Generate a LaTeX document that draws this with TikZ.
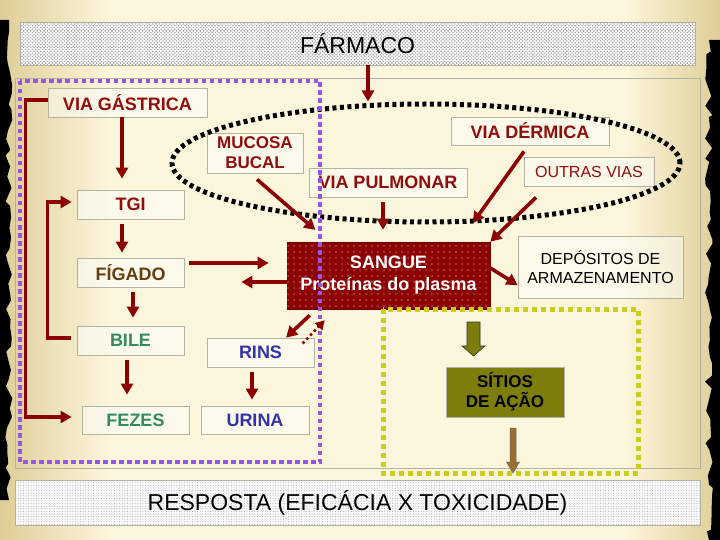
\documentclass[tikz,border=0pt]{standalone}
\usepackage{fontspec}
\setmainfont{Liberation Sans}
\usetikzlibrary{arrows.meta,patterns,patterns.meta,decorations.pathmorphing,shapes.geometric}
\definecolor{parch}{RGB}{252,246,220}
\definecolor{parchdark}{RGB}{222,206,150}
\definecolor{dred}{RGB}{145,12,12}
\definecolor{arrred}{RGB}{140,0,0}
\definecolor{figc}{RGB}{100,62,15}
\definecolor{grn}{RGB}{50,140,95}
\definecolor{blu}{RGB}{50,50,170}
\definecolor{purp}{RGB}{150,85,230}
\definecolor{yel}{RGB}{205,205,30}
\definecolor{olv}{RGB}{125,125,12}
\definecolor{brn}{RGB}{155,110,45}
\definecolor{boxgray}{RGB}{180,178,165}
\definecolor{sang}{RGB}{140,0,0}
\begin{document}
\begin{tikzpicture}[x=1pt,y=-1pt,
  lbl/.style={draw=boxgray,line width=0.8pt,fill=white,fill opacity=0.45,text opacity=1,
    font=\fontsize{18}{21}\selectfont\bfseries,align=center,inner sep=0pt},
  arr/.style={draw=arrred,line width=3.6pt,-{Triangle[length=11pt,width=12pt]}},
  dotarr/.style={draw=arrred,line width=3.6pt,line cap=round,dash pattern=on 0pt off 5.5pt,-{Triangle[length=9pt,width=10pt]}},
  purpline/.style={draw=purp,line width=4.5pt,dash pattern=on 4.5pt off 3.5pt},
  yelline/.style={draw=yel,line width=5pt,dash pattern=on 5pt off 4pt},
  blkline/.style={draw=black,line width=5pt,dash pattern=on 4pt off 3.5pt}]
\useasboundingbox (0,0) rectangle (720,540);
% parchment background
\fill[parch] (0,0) rectangle (720,540);
\shade[left color=parchdark,right color=parch] (0,0) rectangle (110,540);
\shade[left color=parch,right color=parchdark] (625,0) rectangle (720,540);
\pgfmathsetseed{11}
\fill[black] (0,20) -- (9,20) decorate[decoration={random steps,segment length=9pt,amplitude=4pt}]{-- (9,500)} -- (0,500) -- cycle;
\fill[black] (720,40) -- (709,40) decorate[decoration={random steps,segment length=9pt,amplitude=4pt}]{-- (709,540)} -- (720,540) -- cycle;
% inner frame
\draw[boxgray,line width=0.8pt] (15,78) rectangle (700,468);
% banners
\node[draw=boxgray,line width=0.6pt,fill=white,minimum width=675,minimum height=43,inner sep=0pt] (farm) at (357.5,43.5) {};
\fill[pattern={Dots[distance=2.4pt,angle=45,radius=0.9pt]},pattern color=gray!75] (20.5,22.5) rectangle (694.5,64.5);
\node[font=\fontsize{23}{25}\selectfont] at (farm) {FÁRMACO};
\node[draw=boxgray,line width=0.6pt,fill=white!96!gray,minimum width=685,minimum height=45,inner sep=0pt] (resp) at (357.5,502.5) {};
\fill[pattern={Dots[distance=2.6pt,radius=0.5pt]},pattern color=gray!70] (15.5,480.5) rectangle (699.5,524.5);
\node[font=\fontsize{23}{25}\selectfont] at (resp) {RESPOSTA (EFICÁCIA X TOXICIDADE)};
% boxes
\node[lbl,text=dred,minimum width=159,minimum height=29] (vg) at (127.5,102.5) {VIA GÁSTRICA};
\node[lbl,text=dred,minimum width=96,minimum height=40,font=\fontsize{17}{20}\selectfont\bfseries] (muc) at (255,153) {MUCOSA\\BUCAL};
\node[lbl,text=dred,minimum width=158,minimum height=29] (pul) at (388,182.5) {VIA PULMONAR};
\node[lbl,text=dred,minimum width=158,minimum height=28] (der) at (530,131) {VIA DÉRMICA};
\node[lbl,text=dred,minimum width=130,minimum height=29,font=\fontsize{16}{18}\selectfont] (out) at (589,171.5) {OUTRAS VIAS};
\node[lbl,text=dred,minimum width=107,minimum height=29] (tgi) at (130.5,204.5) {TGI};
\node[lbl,text=figc,minimum width=107,minimum height=29] (fig) at (130.5,272.5) {FÍGADO};
\node[lbl,text=black,minimum width=165,minimum height=62,font=\fontsize{16}{18.5}\selectfont] (dep) at (600.5,267) {DEPÓSITOS DE\\ARMAZENAMENTO};
\node[lbl,text=grn,minimum width=107,minimum height=29] (bile) at (130.5,340.5) {BILE};
\node[lbl,text=blu,minimum width=107,minimum height=29] (rins) at (260.5,352.5) {RINS};
\node[lbl,text=grn,minimum width=107,minimum height=28] (fez) at (135.5,420) {FEZES};
\node[lbl,text=blu,minimum width=108,minimum height=28] (uri) at (255,420) {URINA};
% sangue
\node[fill=sang,draw=sang!80!black,line width=0.6pt,minimum width=203,minimum height=67,inner sep=0pt] (sang) at (388.5,275.5) {};
\fill[pattern={Dots[distance=6pt,radius=0.6pt]},pattern color=white!85!sang] (287.5,242.5) rectangle (489.5,308.5);
\node[text=white,font=\fontsize{18}{22}\selectfont\bfseries,align=center] at (sang) {SANGUE\\Proteínas do plasma};
% sitios
\node[fill=olv,draw=boxgray,line width=0.8pt,minimum width=118,minimum height=50,inner sep=0pt,font=\fontsize{17}{20}\selectfont\bfseries,align=center] (sit) at (505,392) {SÍTIOS\\DE AÇÃO};
% grouping shapes
\node[ellipse,blkline,minimum width=508,minimum height=118,inner sep=0pt] (ell) at (426,163) {};
\draw[purpline] (20,81) rectangle (320,462);
\draw[yelline] (383,309) rectangle (638,473);
% block arrows
\draw[fill=olv,draw=black!80,line width=0.6pt] (467,322) -- (480,322) -- (480,346) -- (485,346) -- (473.5,356) -- (462,346) -- (467,346) -- cycle;
\draw[fill=brn,draw=black!60,line width=0.5pt] (510,428) -- (516,428) -- (516,462) -- (519.5,462) -- (513,473) -- (506.5,462) -- (510,462) -- cycle;
% connectors
\draw[arr] ([xshift=10.5pt]farm.south) -- ([xshift=10.5pt]farm.south |- ell.north);
\draw[arr,shorten <=0pt,shorten >=11pt] ([xshift=-5.5pt]vg.south) -- ([xshift=-8.5pt]tgi.north);
\draw[arr,shorten <=5pt,shorten >=5pt] ([xshift=-8.5pt]tgi.south) -- ([xshift=-8.5pt]fig.north);
\draw[arr,shorten <=5pt,shorten >=8pt] ([xshift=2.5pt]fig.south) -- ([xshift=2.5pt]bile.north);
\draw[arr,shorten <=5pt,shorten >=11pt] ([xshift=-3.5pt]bile.south) -- ([xshift=-8.5pt]fez.north);
\draw[arr,shorten <=5pt,shorten >=18pt] ([yshift=9.5pt]fig.east) -- ([yshift=12.5pt]sang.west);
\draw[arr,shorten >=57pt] ([yshift=-6.5pt]sang.west) -- ([yshift=-9.5pt]fig.east);
\draw[arr,shorten >=18pt] ([xshift=2pt,yshift=-6pt]muc.south) -- ([xshift=-59.5pt]sang.north);
\draw[arr,shorten <=5pt,shorten >=12pt] ([xshift=-5pt]pul.south) -- ([xshift=-5.5pt]sang.north);
\draw[arr,shorten >=23pt] ([xshift=-6pt,yshift=-6pt]der.south) -- ([xshift=71pt]sang.north);
\draw[arr] ([xshift=-53pt,yshift=-11pt]out.south) -- (sang.north east);
\draw[arr] ([yshift=7.5pt]sang.east) -- ([yshift=-18pt]dep.west);
\draw[arr] ([xshift=23pt,yshift=-6pt]sang.south west) -- ([xshift=25.5pt]rins.north);
\draw[dotarr] ([xshift=-11pt,yshift=-5pt]rins.north east) -- ([xshift=38pt,yshift=-11pt]sang.south west);
\draw[arr,shorten <=5pt,shorten >=6pt] ([xshift=-8.5pt]rins.south) -- ([xshift=-3pt]uri.north);
\draw[arr] ([yshift=2.5pt]vg.west) -- ++(-22,0) |- ([xshift=-10pt,yshift=3pt]fez.west);
\draw[arr] ([xshift=-6pt,yshift=2.5pt]bile.west) -- ++(-23,0) |- ([xshift=-5pt,yshift=2.5pt]tgi.west);
\end{tikzpicture}
\end{document}
